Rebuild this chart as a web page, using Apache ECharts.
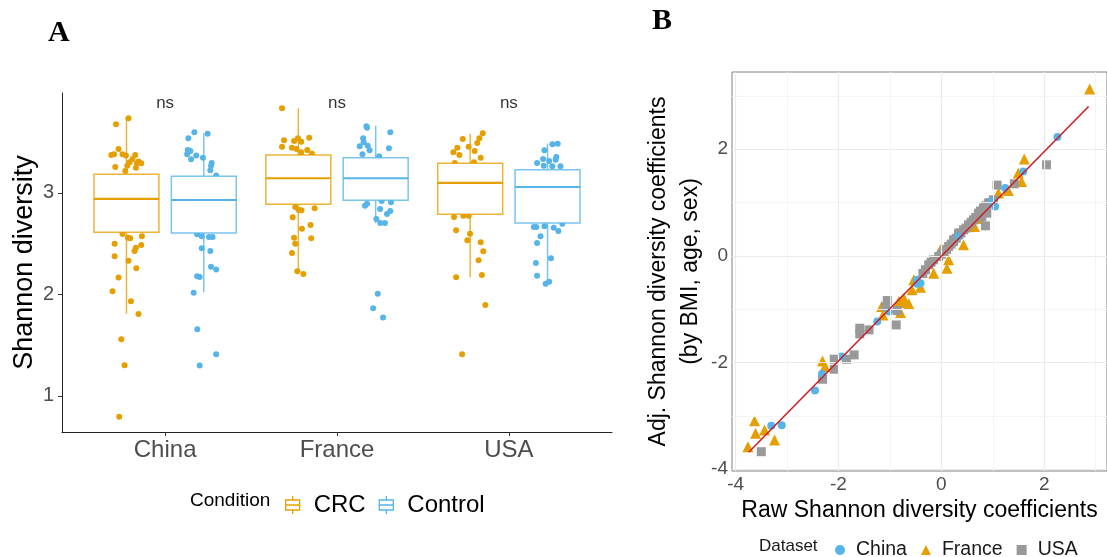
<!DOCTYPE html>
<html><head><meta charset="utf-8">
<script src="https://cdn.jsdelivr.net/npm/echarts@6/dist/echarts.min.js"></script>
<style>html,body{margin:0;padding:0;background:#fff}#c{width:1107px;height:557px}</style>
</head><body><div id="c"></div>
<script>
// ---------- Panel A data ----------
const countries = ['China', 'France', 'USA'];
const yTicksA = [1, 2, 3];
// box stats: [lower whisker, q1, median, q3, upper whisker]
const crcBox  = [[1.811, 2.613, 2.941, 3.184, 3.749], [2.225, 2.889, 3.145, 3.374, 3.834], [2.169, 2.790, 3.099, 3.293, 3.584]];
const ctrlBox = [[2.022, 2.606, 2.931, 3.165, 3.588], [2.701, 2.928, 3.145, 3.348, 3.663], [2.120, 2.704, 3.059, 3.230, 3.486]];
// jittered points: [category position, Shannon diversity]
const crcChina = [[0.787,3.736],[0.714,3.677],[0.729,3.433],[0.687,3.374],[0.703,3.381],[0.752,3.381],[0.772,3.368],[0.826,3.374],[0.810,3.335],[0.793,3.302],[0.836,3.292],[0.861,3.292],[0.845,3.309],[0.710,3.256],[0.780,3.269],[0.830,3.249],[0.768,3.217],
  [0.752,2.596],[0.784,2.560],[0.797,2.554],[0.865,2.573],[0.706,2.500],[0.861,2.488],[0.830,2.461],[0.822,2.429],[0.706,2.376],[0.787,2.333],[0.832,2.258],[0.729,2.166],[0.694,2.031],[0.801,1.933],[0.845,1.808],[0.745,1.559],[0.764,1.302],[0.733,0.796]];
const crcFrance = [[1.680,3.834],[1.692,3.519],[1.680,3.456],[1.750,3.512],[1.773,3.539],[1.792,3.505],[1.838,3.545],[1.738,3.446],[1.765,3.433],[1.827,3.424],[1.792,3.401],[1.854,3.387],
  [1.757,2.862],[1.777,2.833],[1.793,2.829],[1.870,2.849],[1.742,2.761],[1.796,2.648],[1.846,2.685],[1.750,2.560],[1.850,2.554],[1.757,2.500],[1.738,2.409],[1.769,2.228],[1.804,2.202]];
const crcUSA = [[2.848,3.588],[2.828,3.539],[2.816,3.493],[2.732,3.532],[2.766,3.456],[2.700,3.446],[2.677,3.401],[2.712,3.374],[2.801,3.414],[2.836,3.348],[2.797,3.302],[2.685,3.296],
  [2.681,2.764],[2.735,2.776],[2.766,2.776],[2.693,2.632],[2.774,2.599],[2.758,2.534],[2.836,2.514],[2.851,2.426],[2.824,2.337],[2.693,2.169],[2.843,2.192],[2.863,1.897],[2.728,1.411]];
const ctrlChina = [[1.170,3.598],[1.247,3.584],[1.135,3.539],[1.132,3.424],[1.147,3.414],[1.128,3.381],[1.181,3.368],[1.151,3.332],[1.220,3.348],[1.271,3.296],[1.267,3.269],[1.263,3.223],[1.297,3.171],
  [1.213,2.573],[1.186,2.593],[1.255,2.567],[1.276,2.567],[1.213,2.455],[1.263,2.429],[1.267,2.274],[1.297,2.245],[1.186,2.179],[1.201,2.172],[1.166,2.018],[1.187,1.657],[1.297,1.411],[1.201,1.299]];
const ctrlFrance = [[2.171,3.657],[2.175,3.643],[2.310,3.598],[2.152,3.539],[2.155,3.499],[2.132,3.460],[2.179,3.466],[2.190,3.421],[2.302,3.440],[2.148,3.381],[2.245,3.361],
  [2.163,2.875],[2.175,2.895],[2.260,2.921],[2.314,2.908],[2.251,2.842],[2.310,2.823],[2.291,2.793],[2.229,2.744],[2.252,2.704],[2.279,2.704],[2.237,2.008],[2.210,1.864],[2.268,1.772]];
const ctrlUSA = [[3.253,3.480],[3.284,3.486],[3.207,3.421],[3.276,3.355],[3.272,3.328],[3.199,3.335],[3.164,3.296],[3.234,3.315],[3.203,3.269],[3.253,3.263],[3.300,3.263],
  [3.145,2.665],[3.160,2.665],[3.207,2.672],[3.261,2.658],[3.288,2.626],[3.311,2.698],[3.184,2.573],[3.164,2.507],[3.245,2.357],[3.157,2.310],[3.164,2.185],[3.214,2.106],[3.234,2.126]];
const sigLabels = ['ns', 'ns', 'ns'];
const sigY = 3.884;

// ---------- Panel B data ----------
const ticksB = [-4, -2, 0, 2];
const minorB = [-3, -1, 1, 3];
const chinaB = [[-3.308,-3.184],[-3.102,-3.177],[-2.457,-2.527],[-2.321,-2.214],[-1.942,-1.889],[-1.246,-1.232],[-1.019,-1.045],[-0.472,-0.450],[-0.406,-0.513],[-0.472,-0.525],[0.335,0.362],[0.979,1.019],[1.044,0.925],[1.238,1.270],[1.592,1.582],[2.256,2.227]];
const franceB = [[-3.760,-3.578],[-3.631,-3.090],[-3.611,-3.327],[-3.437,-3.265],[-3.244,-3.452],[-2.309,-1.970],[-2.263,-2.076],[-1.161,-0.951],[-1.135,-1.107],[-0.826,-0.857],[-0.793,-1.063],[-0.762,-0.838],[-0.696,-0.875],[-0.633,-0.900],[-0.729,-0.794],[-0.569,-0.638],[-0.406,-0.588],[-0.536,-0.450],[-0.149,-0.325],
  [0.108,-0.231],[0.141,-0.075],[-0.019,0.113],[0.431,0.206],[0.644,0.550],[0.750,0.700],[1.108,1.176],[1.302,1.225],[1.495,1.551],[1.559,1.394],[1.611,1.814],[2.882,3.128]];
const usaB = [[-3.501,-3.672],[-2.309,-2.314],[-2.083,-1.938],[-2.083,-2.126],[-1.845,-1.938],[-1.696,-1.857],[-1.586,-1.357],[-1.586,-1.463],[-1.406,-1.388],[-0.878,-1.295],[-1.052,-0.838],[-1.083,-0.951],[-0.859,-1.026],
  [-0.360,-0.330],[-0.310,-0.260],[-0.246,-0.169],[-0.200,-0.120],[-0.149,-0.075],[-0.052,-0.013],[0.000,0.030],[0.044,0.081],[0.100,0.120],[0.141,0.175],[0.190,0.220],[0.238,0.268],[0.238,0.300],[0.290,0.330],[0.335,0.394],[0.335,0.426],[0.380,0.430],[0.431,0.488],[0.480,0.520],[0.528,0.582],[0.580,0.630],[0.625,0.675],[0.670,0.720],[0.721,0.801],[0.760,0.840],[0.786,0.737],[0.818,0.895],[0.851,0.925],[0.857,0.563],[0.870,0.940],[0.883,0.801],[0.915,0.989],[0.950,1.000],[1.012,1.051],[1.083,1.326],[1.418,1.351],[2.043,1.707]];
const fitLine = [[-3.745, -3.683], [2.862, 2.801]];

// ---------- styles ----------
const ORANGE = '#E69F00', BLUE = '#56B4E9', GRAY = '#999999';
const FONT = 'Liberation Sans';
const DODGE = 0.225, BOX_W = 0.378;

function boxRender(offset, mainColor, lineColor) {
  return function (params, api) {
    const x = api.value(0) + offset;
    const lo = api.coord([x, api.value(1)]);
    const q1 = api.coord([x, api.value(2)]);
    const md = api.coord([x, api.value(3)]);
    const q3 = api.coord([x, api.value(4)]);
    const hi = api.coord([x, api.value(5)]);
    const hw = api.size([BOX_W, 0])[0] / 2;
    return { type: 'group', children: [
      { type: 'line', shape: { x1: hi[0], y1: hi[1], x2: q3[0], y2: q3[1] }, style: { stroke: lineColor, lineWidth: 1.5 } },
      { type: 'line', shape: { x1: q1[0], y1: q1[1], x2: lo[0], y2: lo[1] }, style: { stroke: lineColor, lineWidth: 1.5 } },
      { type: 'rect', shape: { x: q3[0] - hw, y: q3[1], width: 2 * hw, height: q1[1] - q3[1] }, style: { fill: '#fff', stroke: lineColor, lineWidth: 1.5 } },
      { type: 'line', shape: { x1: md[0] - hw, y1: md[1], x2: md[0] + hw, y2: md[1] }, style: { stroke: mainColor, lineWidth: 2.2 } }
    ] };
  };
}

const gridLineData = [];
ticksB.forEach(v => { gridLineData.push({ xAxis: v, lineStyle: { color: '#EBEBEB', width: 1.2, type: 'solid' } }); gridLineData.push({ yAxis: v, lineStyle: { color: '#EBEBEB', width: 1.2, type: 'solid' } }); });
minorB.forEach(v => { gridLineData.push({ xAxis: v, lineStyle: { color: '#F3F3F3', width: 0.9, type: 'solid' } }); gridLineData.push({ yAxis: v, lineStyle: { color: '#F3F3F3', width: 0.9, type: 'solid' } }); });

const boxIcon = 'path://M8,0 L8,4 M1,4 L15,4 L15,14 L1,14 Z M1,9 L15,9 M8,14 L8,18';

const option = {
  animation: false,
  backgroundColor: '#fff',
  textStyle: { fontFamily: FONT },
  title: [
    { text: 'A', left: 43, top: 13, textStyle: { fontFamily: 'Liberation Serif', fontWeight: 'bold', fontSize: 30, color: '#000' } },
    { text: 'B', left: 647, top: 1, textStyle: { fontFamily: 'Liberation Serif', fontWeight: 'bold', fontSize: 30, color: '#000' } }
  ],
  graphic: [
    { type: 'text', left: 190, top: 491, style: { text: 'Condition', font: '19px "Liberation Sans"', fill: '#000' } },
    { type: 'text', left: 759, top: 538, style: { text: 'Dataset', font: '17px "Liberation Sans"', fill: '#1a1a1a' } }
  ],
  legend: [
    {
      left: 280, top: 488, itemWidth: 16, itemHeight: 18, itemGap: 13,
      textStyle: { fontSize: 24, color: '#000', fontFamily: FONT, padding: [0, 0, 0, 8] },
      data: [
        { name: 'CRC', icon: boxIcon, itemStyle: { color: '#fff', borderColor: ORANGE, borderWidth: 1.3 } },
        { name: 'Control', icon: boxIcon, itemStyle: { color: '#fff', borderColor: BLUE, borderWidth: 1.3 } }
      ]
    },
    {
      left: 830, top: 535, itemWidth: 10, itemHeight: 10, itemGap: 14,
      textStyle: { fontSize: 19.5, color: '#1a1a1a', fontFamily: FONT, padding: [0, 0, 0, 6] },
      data: [
        { name: 'China', icon: 'circle' },
        { name: 'France', icon: 'triangle' },
        { name: 'USA', icon: 'rect' }
      ]
    }
  ],
  grid: [
    { left: 62, top: 93, width: 550, height: 339 },
    { left: 732, top: 72, width: 377, height: 399, show: true, borderColor: '#808080', borderWidth: 1, backgroundColor: '#fff' }
  ],
  xAxis: [
    {
      gridIndex: 0, type: 'value', min: 0.4, max: 3.6,
      axisLine: { show: true, onZero: false, lineStyle: { color: '#222', width: 1 } },
      axisTick: { show: true, customValues: [1, 2, 3], length: 4, lineStyle: { color: '#333' } },
      axisLabel: { customValues: [1, 2, 3], formatter: v => countries[Math.round(v) - 1], fontSize: 24, color: '#4d4d4d', margin: 6 },
      splitLine: { show: false }
    },
    {
      gridIndex: 1, type: 'value', min: -4.07, max: 3.22,
      name: 'Raw Shannon diversity coefficients', nameLocation: 'middle', nameGap: 25,
      nameTextStyle: { fontSize: 23, color: '#000' },
      axisLine: { show: false },
      axisTick: { show: true, customValues: ticksB, length: 4, lineStyle: { color: '#333' } },
      axisLabel: { customValues: ticksB, fontSize: 19, color: '#4d4d4d', margin: 4 },
      splitLine: { show: false }
    }
  ],
  yAxis: [
    {
      gridIndex: 0, type: 'value', min: 0.645, max: 3.985,
      name: 'Shannon diversity', nameLocation: 'middle', nameGap: 24, nameRotate: 90,
      nameTextStyle: { fontSize: 27, color: '#000' },
      axisLine: { show: true, onZero: false, lineStyle: { color: '#222', width: 1 } },
      axisTick: { show: true, customValues: yTicksA, length: 4, lineStyle: { color: '#333' } },
      axisLabel: { customValues: yTicksA, fontSize: 20, color: '#4d4d4d', margin: 8 },
      splitLine: { show: false }
    },
    {
      gridIndex: 1, type: 'value', min: -4.034, max: 3.447,
      name: 'Adj. Shannon diversity coefficients\n(by BMI, age, sex)', nameLocation: 'middle', nameGap: 25, nameRotate: 90,
      nameTextStyle: { fontSize: 23, color: '#000', lineHeight: 32 },
      axisLine: { show: false },
      axisTick: { show: true, customValues: ticksB, length: 4, lineStyle: { color: '#333' } },
      axisLabel: { customValues: ticksB, fontSize: 19, color: '#4d4d4d', margin: 4 },
      splitLine: { show: false }
    }
  ],
  series: [
    { name: 'crcPts', type: 'scatter', xAxisIndex: 0, yAxisIndex: 0, symbolSize: 6, itemStyle: { color: ORANGE, opacity: 1 }, z: 2,
      data: crcChina.concat(crcFrance, crcUSA) },
    { name: 'ctrlPts', type: 'scatter', xAxisIndex: 0, yAxisIndex: 0, symbolSize: 6, itemStyle: { color: BLUE, opacity: 1 }, z: 2,
      data: ctrlChina.concat(ctrlFrance, ctrlUSA) },
    { name: 'CRC', type: 'custom', xAxisIndex: 0, yAxisIndex: 0, z: 3, itemStyle: { color: ORANGE },
      renderItem: boxRender(-DODGE, ORANGE, 'rgba(230,159,0,0.78)'), encode: { x: 0, y: [1, 2, 3, 4, 5] },
      data: crcBox.map((s, i) => [i + 1].concat(s)) },
    { name: 'Control', type: 'custom', xAxisIndex: 0, yAxisIndex: 0, z: 3, itemStyle: { color: BLUE },
      renderItem: boxRender(DODGE, BLUE, 'rgba(86,180,233,0.78)'), encode: { x: 0, y: [1, 2, 3, 4, 5] },
      data: ctrlBox.map((s, i) => [i + 1].concat(s)) },
    { name: 'sig', type: 'scatter', xAxisIndex: 0, yAxisIndex: 0, symbolSize: 0, z: 4,
      label: { show: true, position: 'inside', formatter: p => p.name, fontSize: 17, color: '#000', fontFamily: FONT },
      data: sigLabels.map((t, i) => ({ name: t, value: [i + 1, sigY] })) },
    { name: 'gridlines', type: 'line', xAxisIndex: 1, yAxisIndex: 1, data: [[0, 0]], showSymbol: false, z: 1, lineStyle: { opacity: 0 },
      markLine: { silent: true, symbol: ['none', 'none'], label: { show: false }, animation: false, data: gridLineData } },
    { name: 'France', type: 'scatter', xAxisIndex: 1, yAxisIndex: 1, symbol: 'triangle', symbolSize: 11, itemStyle: { color: ORANGE, opacity: 1 }, z: 3, data: franceB },
    { name: 'USA', type: 'scatter', xAxisIndex: 1, yAxisIndex: 1, symbol: 'rect', symbolSize: 9, itemStyle: { color: GRAY, opacity: 1 }, z: 3, data: usaB },
    { name: 'China', type: 'scatter', xAxisIndex: 1, yAxisIndex: 1, symbol: 'circle', symbolSize: 8, itemStyle: { color: BLUE, opacity: 1 }, z: 3, data: chinaB },
    { name: 'fit', type: 'line', xAxisIndex: 1, yAxisIndex: 1, data: fitLine, showSymbol: false, z: 5,
      lineStyle: { color: '#CB2027', width: 1.6 } }
  ]
};

const chart = echarts.init(document.getElementById('c'), null, { renderer: 'canvas' });
chart.setOption(option);
</script>
</body></html>
